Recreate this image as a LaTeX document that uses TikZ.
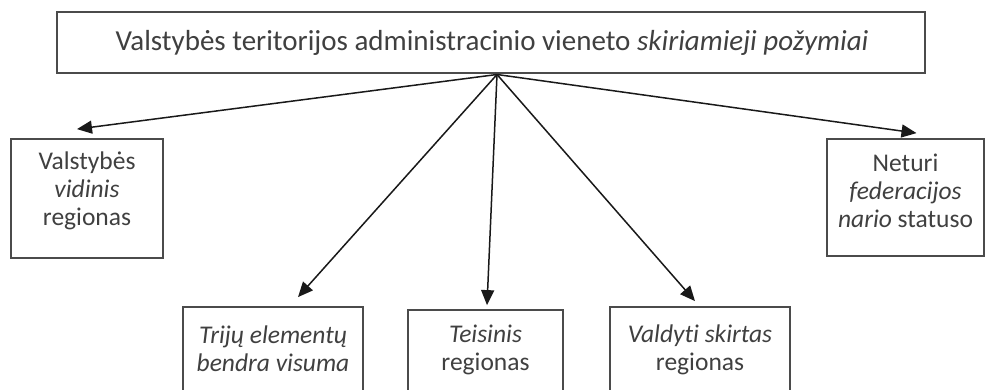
\documentclass[tikz,border=0pt]{standalone}
\usepackage{fontspec}
\setmainfont{Carlito}[Ligatures=NoCommon]
\usetikzlibrary{arrows.meta,calc}
\definecolor{txtgray}{RGB}{64,64,64}
\definecolor{boxgray}{RGB}{75,75,75}
\begin{document}
\begin{tikzpicture}[x=1pt,y=-1pt,
  box/.style={draw=boxgray, line width=1.8pt, fill=white, rectangle, inner sep=0pt},
  lbl/.style={text=txtgray, align=center, font=\fontsize{25.5}{28}\selectfont, inner sep=0pt},
  arr/.style={draw=black!90, line width=1.5pt, -{Triangle[length=15pt,width=13pt]}}
]
\clip (0,0) rectangle (987,390);
\fill[white] (0,0) rectangle (987,390);
% boxes
\node[box, minimum width=868pt, minimum height=61pt] (top) at (491,42.5) {};
\node[box, minimum width=152pt, minimum height=119pt] (lbox) at (87,198.5) {};
\node[box, minimum width=157pt, minimum height=117pt] (rbox) at (905.5,197.5) {};
\node[box, minimum width=180pt, minimum height=120pt] (b1) at (273,367) {};
\node[box, minimum width=155pt, minimum height=120pt] (b2) at (485.5,370) {};
\node[box, minimum width=180pt, minimum height=120pt] (b3) at (700,367) {};
% texts
\node[lbl, font=\fontsize{29}{30}\selectfont] (ttop) at (492,43) {Valstybės teritorijos administracinio vieneto \textit{skiriamieji požymiai}};
\node[lbl] (tl) at (87,191) {Valstybės\\\textit{vidinis}\\regionas};
\node[lbl] (tr) at (905.5,191) {Neturi\\\textit{federacijos}\\\textit{nario} statuso};
\node[lbl] (t1) at (273,349) {\textit{Trijų elementų}\\\textit{bendra visuma}};
\node[lbl] (t2) at (485.5,350) {\textit{Teisinis}\\regionas};
\node[lbl] (t3) at (700,350) {\textit{Valdyti skirtas}\\regionas};
% connectors
\coordinate (apex) at (497,74.5);
\draw[arr] (apex) -- ([xshift=-10pt,yshift=9pt]lbox.north);
\draw[arr] (apex) -- ([xshift=11pt,yshift=5pt]rbox.north);
\draw[arr] (apex) -- ([xshift=25pt,yshift=9pt]b1.north);
\draw[arr] (apex) -- ([xshift=1.5pt,yshift=4pt]b2.north);
\draw[arr] (apex) -- ([xshift=-5pt,yshift=5pt]b3.north);
\end{tikzpicture}
\end{document}
